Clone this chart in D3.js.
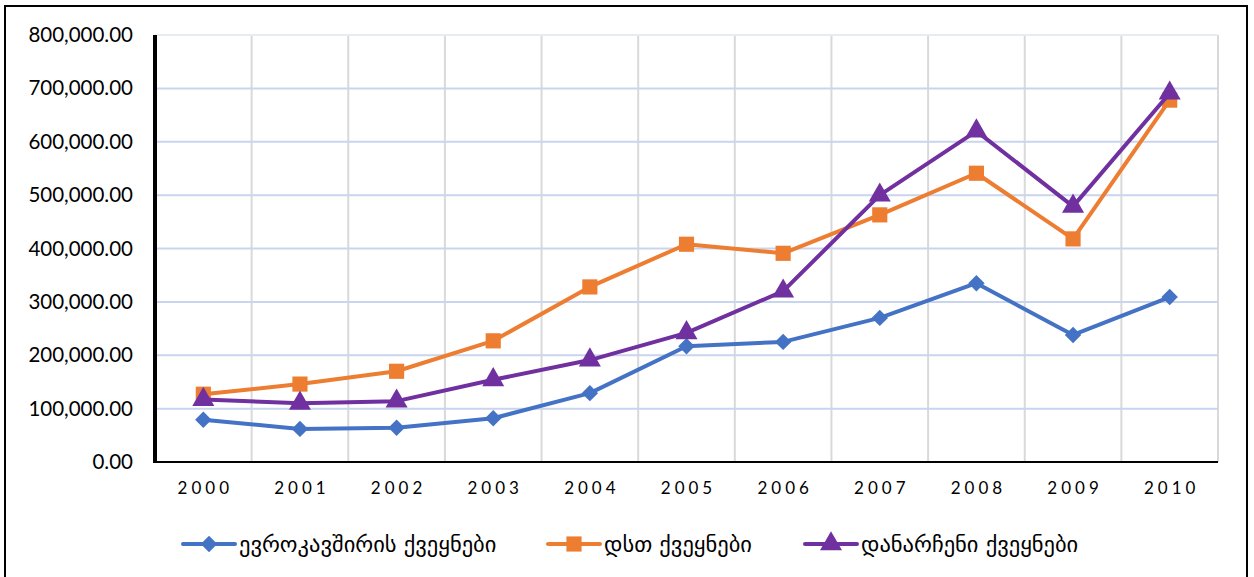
<!DOCTYPE html>
<html lang="ka">
<head>
<meta charset="utf-8">
<title>line chart</title>
<script src="https://d3js.org/d3.v7.min.js"></script>
<style>
  body { margin: 0; background: #fff; }
  svg { font-family: Lato, "DejaVu Sans", sans-serif; }
</style>
</head>
<body>
<script>
// data
var years = ["2000","2001","2002","2003","2004","2005","2006","2007","2008","2009","2010"];
var euValues    = [79000, 62000, 64000, 82000, 129000, 217000, 225000, 270000, 335000, 238000, 309000];
var cisValues   = [127000, 146000, 170000, 227000, 328000, 408000, 391000, 463000, 541000, 418000, 678000];
var otherValues = [117000, 110000, 114000, 154000, 191000, 242000, 320000, 500000, 620000, 479000, 691000];
var seriesNames = ["ევროკავშირის ქვეყნები", "დსთ ქვეყნები", "დანარჩენი ქვეყნები"];
var yTicks = [0, 100000, 200000, 300000, 400000, 500000, 600000, 700000, 800000];

var width = 1254, height = 577;
var colors = ["#4472c4", "#ed7d31", "#7030a0"];
// diamond is drawn as a square turned 45 degrees
var shapes = [d3.symbolSquare, d3.symbolSquare, d3.symbolTriangle];
var rotations = [45, 0, 0];
var symSizes = [135, 230, 210];
var series = [euValues, cisValues, otherValues];

var plot = {left: 155, right: 1218, top: 35, bottom: 462};

var svg = d3.select("body").append("svg")
    .attr("width", width)
    .attr("height", height);

svg.append("rect")
    .attr("x", 5).attr("y", 6)
    .attr("width", 1242).attr("height", 580)
    .attr("fill", "#fff")
    .attr("stroke", "#000")
    .attr("stroke-width", 2);

var x = d3.scaleBand()
    .domain(years)
    .range([plot.left, plot.right]);

var y = d3.scaleLinear()
    .domain([0, 800000])
    .range([plot.bottom, plot.top]);

// vertical grid (category boundaries)
var bounds = years.map(function(d) { return x(d); }).concat([plot.right]);
svg.append("g").selectAll("line")
    .data(bounds.slice(1))
    .enter().append("line")
    .attr("x1", function(d) { return d; })
    .attr("x2", function(d) { return d; })
    .attr("y1", plot.top)
    .attr("y2", plot.bottom)
    .attr("stroke", "#d9d9d9")
    .attr("stroke-width", 2);

// horizontal grid
svg.append("g").selectAll("line")
    .data(yTicks.slice(1))
    .enter().append("line")
    .attr("x1", plot.left)
    .attr("x2", plot.right)
    .attr("y1", function(d) { return y(d); })
    .attr("y2", function(d) { return y(d); })
    .attr("stroke", function(d) { return d == 800000 ? "#e6ebf5" : "#c9d5ee"; })
    .attr("stroke-width", 2);

// y axis
var yAxis = svg.append("g")
    .attr("transform", "translate(" + plot.left + ",0)")
    .call(d3.axisLeft(y).tickValues(yTicks).tickSize(0).tickPadding(22)
        .tickFormat(d3.format(",.2f")));
yAxis.select(".domain").remove();
yAxis.selectAll("text")
    .attr("font-size", "20.5px")
    .attr("font-family", "Lato, 'DejaVu Sans', sans-serif")
    .attr("fill", "#000");

// x axis
var xAxis = svg.append("g")
    .attr("transform", "translate(0," + plot.bottom + ")")
    .call(d3.axisBottom(x).tickSize(0).tickPadding(20));
xAxis.select(".domain").remove();
xAxis.selectAll("text")
    .attr("font-size", "17px")
    .attr("font-family", "Lato, 'DejaVu Sans', sans-serif")
    .attr("letter-spacing", "4px")
    .attr("dx", "2px")
    .attr("fill", "#000");

svg.append("line")
    .attr("x1", plot.left).attr("x2", plot.right)
    .attr("y1", plot.bottom).attr("y2", plot.bottom)
    .attr("stroke", "#000").attr("stroke-width", 2);
svg.append("line")
    .attr("x1", plot.left).attr("x2", plot.left)
    .attr("y1", plot.top).attr("y2", plot.bottom + 1)
    .attr("stroke", "#000").attr("stroke-width", 4);

var line = d3.line()
    .x(function(d, i) { return x(years[i]) + x.bandwidth() / 2; })
    .y(function(d) { return y(d); });

series.forEach(function(vals, s) {
    svg.append("path")
        .datum(vals)
        .attr("d", line)
        .attr("fill", "none")
        .attr("stroke", colors[s])
        .attr("stroke-width", 4)
        .attr("stroke-linejoin", "round");
    svg.append("g").selectAll("path")
        .data(vals)
        .enter().append("path")
        .attr("transform", function(d, i) {
            return "translate(" + (x(years[i]) + x.bandwidth() / 2) + "," + y(d) + ") rotate(" + rotations[s] + ")";
        })
        .attr("d", d3.symbol().type(shapes[s]).size(symSizes[s]))
        .attr("fill", colors[s]);
});

// legend
var legendX = [183, 548, 805];
var legend = svg.append("g");
seriesNames.forEach(function(name, s) {
    var g = legend.append("g").attr("transform", "translate(" + legendX[s] + ",544)");
    g.append("line")
        .attr("x1", 0).attr("x2", 52)
        .attr("stroke", colors[s]).attr("stroke-width", 4)
        .attr("stroke-linecap", "round");
    g.append("path")
        .attr("transform", "translate(26,0) rotate(" + rotations[s] + ")")
        .attr("d", d3.symbol().type(shapes[s]).size(symSizes[s]))
        .attr("fill", colors[s]);
    g.append("text")
        .attr("x", 56)
        .attr("dy", "0.35em")
        .attr("font-size", "22.5px")
        .attr("font-family", "'DejaVu Sans', sans-serif")
        .attr("fill", "#000")
        .text(name);
});
</script>
</body>
</html>
